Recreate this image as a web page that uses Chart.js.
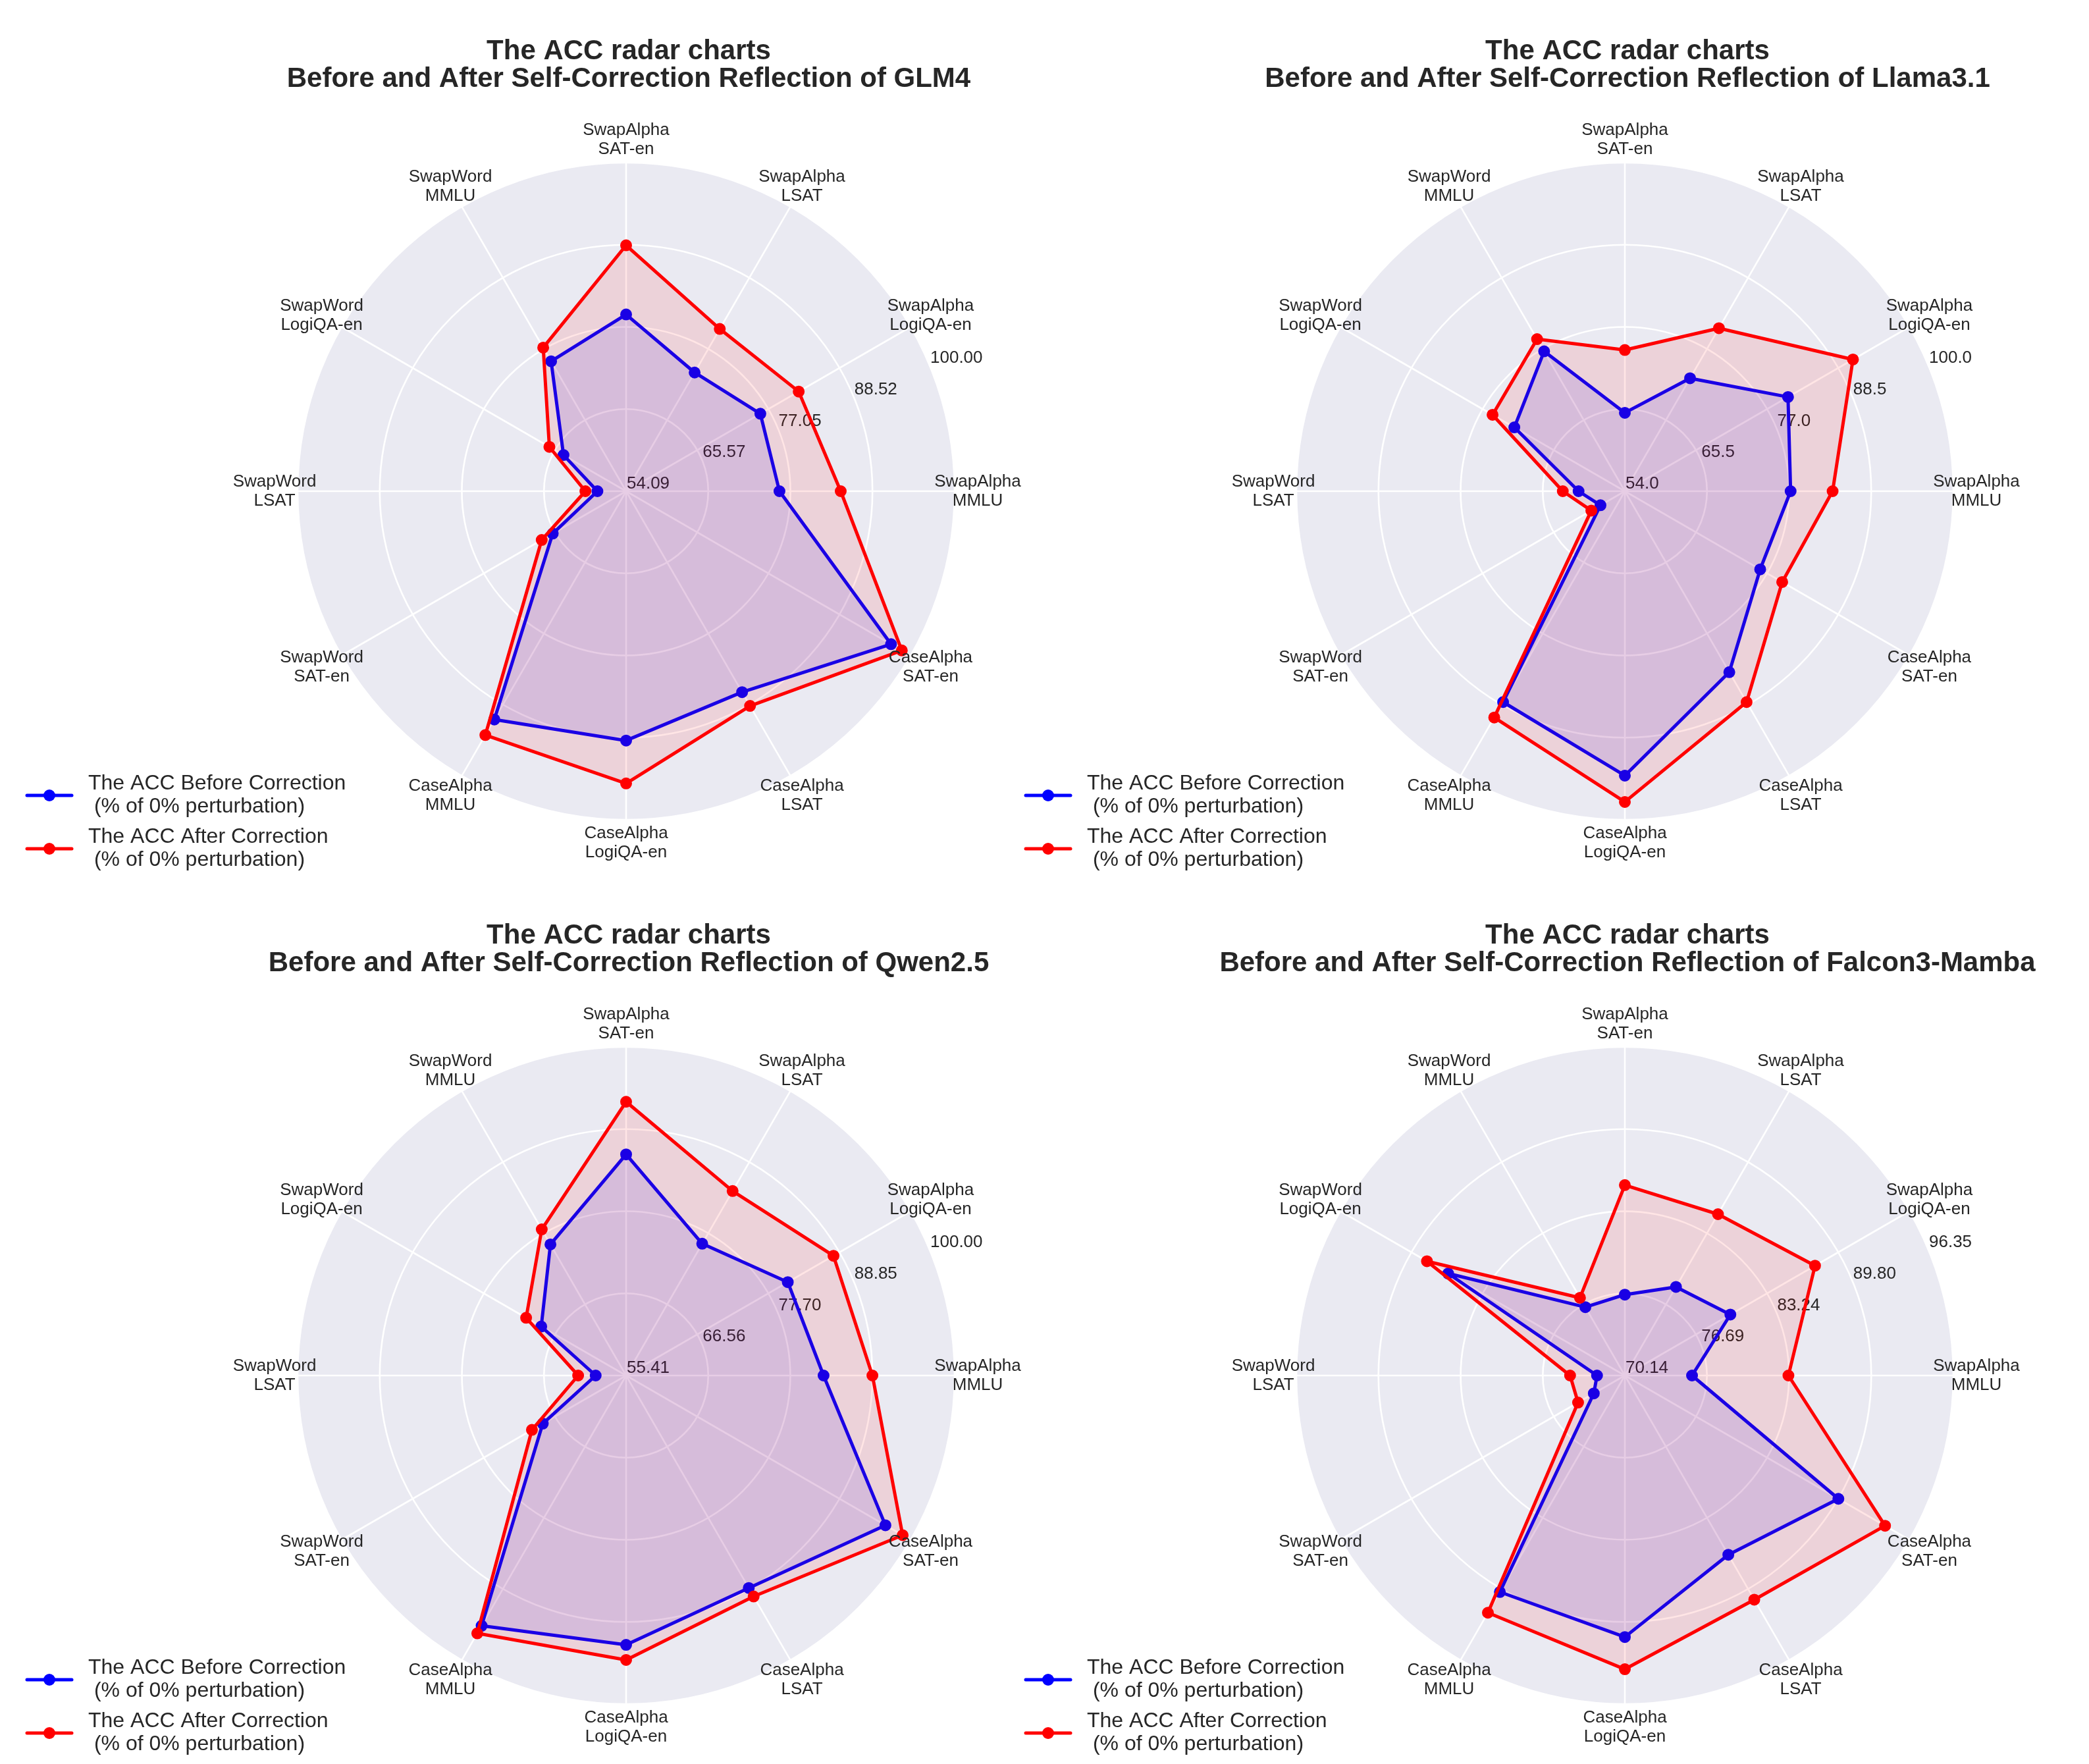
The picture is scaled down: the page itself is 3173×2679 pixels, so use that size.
<!DOCTYPE html>
<html>
<head>
<meta charset="utf-8">
<script src="https://cdn.jsdelivr.net/npm/chart.js@4.4.1/dist/chart.umd.min.js"></script>
<style>
    html, body { margin: 0; padding: 0; background: #ffffff; }
    body { width: 3173px; height: 2679px; position: relative; overflow: hidden; }
    .panel { position: absolute; width: 1586px; height: 1339px; }
</style>
</head>
<body>
<div class="panel" style="left:0px;top:0px"><canvas id="c0" width="1586" height="1339"></canvas></div>
<div class="panel" style="left:1517px;top:0px"><canvas id="c1" width="1586" height="1339"></canvas></div>
<div class="panel" style="left:0px;top:1343px"><canvas id="c2" width="1586" height="1339"></canvas></div>
<div class="panel" style="left:1517px;top:1343px"><canvas id="c3" width="1586" height="1339"></canvas></div>
<script>
// categories (clockwise from top)
const categories = [
    ['SwapAlpha', 'SAT-en'], ['SwapAlpha', 'LSAT'], ['SwapAlpha', 'LogiQA-en'], ['SwapAlpha', 'MMLU'],
    ['CaseAlpha', 'SAT-en'], ['CaseAlpha', 'LSAT'], ['CaseAlpha', 'LogiQA-en'], ['CaseAlpha', 'MMLU'],
    ['SwapWord', 'SAT-en'], ['SwapWord', 'LSAT'], ['SwapWord', 'LogiQA-en'], ['SwapWord', 'MMLU']
];

const models = ['GLM4', 'Llama3.1', 'Qwen2.5', 'Falcon3-Mamba'];

// ACC before / after self-correction
const glmBefore = [78.79, 73.24, 75.75, 75.52, 96.84, 86.51, 88.93, 90.92, 65.93, 58.10, 64.19, 75.05];
const glmAfter = [88.45, 80.27, 81.94, 84.08, 98.58, 88.73, 94.92, 93.43, 67.71, 59.78, 66.47, 77.26];

const llamaBefore = [64.98, 72.26, 80.38, 77.21, 75.88, 83.25, 93.82, 88.09, 57.94, 60.48, 71.87, 76.61];
const llamaAfter = [73.77, 80.35, 90.88, 83.09, 79.44, 88.09, 97.50, 90.58, 59.42, 62.69, 75.39, 78.58];

const qwenBefore = [85.42, 76.07, 80.75, 82.21, 96.05, 88.71, 91.96, 94.63, 68.47, 59.54, 68.71, 75.95];
const qwenAfter = [92.56, 84.32, 87.91, 88.84, 98.75, 90.03, 94.01, 95.81, 70.17, 61.92, 71.08, 78.31];

const falconBefore = [76.59, 78.30, 79.86, 75.50, 89.81, 86.65, 91.00, 90.08, 73.00, 72.36, 86.42, 76.44];
const falconAfter = [85.33, 85.00, 87.66, 83.19, 94.11, 90.79, 93.57, 91.99, 74.45, 74.51, 88.37, 77.30];

// radial tick labels of each chart
const glmTicks = ['54.09', '65.57', '77.05', '88.52', '100.00'];
const llamaTicks = ['54.0', '65.5', '77.0', '88.5', '100.0'];
const qwenTicks = ['55.41', '66.56', '77.70', '88.85', '100.00'];
const falconTicks = ['70.14', '76.69', '83.24', '89.80', '96.35'];

const beforeLabel = ['The ACC Before Correction', ' (% of 0% perturbation)'];
const afterLabel = ['The ACC After Correction', ' (% of 0% perturbation)'];

const FONT = '"Liberation Sans", Arial, Helvetica, sans-serif';
const TEXT = '#262626';

// draws the grey disc, tick labels, category labels, title and legend
const radarDecor = {
    id: 'radarDecor',
    beforeDraw(chart) {
        const s = chart.scales.r;
        const ctx = chart.ctx;
        ctx.save();
        ctx.beginPath();
        ctx.arc(s.xCenter, s.yCenter, s.drawingArea, 0, Math.PI * 2);
        ctx.fillStyle = '#eaeaf2';
        ctx.fill();
        ctx.restore();
    },
    beforeDatasetsDraw(chart, args, opts) {
        const s = chart.scales.r;
        const ctx = chart.ctx;
        const a = 22.5 * Math.PI / 180;
        ctx.save();
        ctx.font = '26px ' + FONT;
        ctx.fillStyle = TEXT;
        ctx.textAlign = 'left';
        ctx.textBaseline = 'bottom';
        opts.ticks.forEach(t => {
            const d = s.getDistanceFromCenterForValue(parseFloat(t));
            ctx.fillText(t, s.xCenter + d * Math.cos(a) + 1, s.yCenter - d * Math.sin(a) + 2);
        });
        ctx.restore();
    },
    afterDraw(chart, args, opts) {
        const s = chart.scales.r;
        const ctx = chart.ctx;
        ctx.save();
        // category labels
        ctx.font = '26px ' + FONT;
        ctx.fillStyle = TEXT;
        ctx.textAlign = 'center';
        ctx.textBaseline = 'middle';
        chart.data.labels.forEach((lab, i) => {
            const p = s.getPointPosition(i, s.drawingArea + 35);
            ctx.fillText(lab[0], p.x, p.y - 14.5);
            ctx.fillText(lab[1], p.x, p.y + 14.5);
        });
        // title
        ctx.font = 'bold 42px ' + FONT;
        ctx.textBaseline = 'alphabetic';
        ctx.fillText(opts.title[0], s.xCenter + 4, s.yCenter - 656);
        ctx.fillText(opts.title[1], s.xCenter + 4, s.yCenter - 614);
        // legend
        ctx.font = '32px ' + FONT;
        ctx.textAlign = 'left';
        const rows = [[chart.data.datasets[0], 1208], [chart.data.datasets[1], 1289]];
        rows.forEach(([ds, y]) => {
            const x0 = s.xCenter - 910;
            ctx.strokeStyle = ds.borderColor;
            ctx.lineWidth = 5;
            ctx.lineCap = 'round';
            ctx.beginPath();
            ctx.moveTo(x0, y);
            ctx.lineTo(x0 + 68, y);
            ctx.stroke();
            ctx.beginPath();
            ctx.arc(x0 + 34, y, 9, 0, Math.PI * 2);
            ctx.fillStyle = ds.borderColor;
            ctx.fill();
            ctx.fillStyle = TEXT;
            ctx.fillText(ds.label[0], x0 + 93, y - 9);
            ctx.fillText(ds.label[1], x0 + 93, y + 26);
        });
        ctx.restore();
    }
};

function makeRadar(id, model, before, after, ticks) {
    const tickVals = ticks.map(t => parseFloat(t));
    return new Chart(document.getElementById(id), {
        type: 'radar',
        data: {
            labels: categories,
            datasets: [{
                label: beforeLabel,
                data: before,
                borderColor: '#0000ff',
                backgroundColor: 'rgba(0, 0, 255, 0.1)',
                pointBackgroundColor: '#0000ff',
                pointBorderColor: '#0000ff',
                borderWidth: 5,
                borderJoinStyle: 'round',
                pointRadius: 8,
                pointBorderWidth: 2,
                fill: 'start',
                order: 1
            }, {
                label: afterLabel,
                data: after,
                borderColor: '#ff0000',
                backgroundColor: 'rgba(255, 0, 0, 0.1)',
                pointBackgroundColor: '#ff0000',
                pointBorderColor: '#ff0000',
                borderWidth: 5,
                borderJoinStyle: 'round',
                pointRadius: 8,
                pointBorderWidth: 2,
                fill: 'start',
                order: 0
            }]
        },
        options: {
            responsive: false,
            animation: false,
            devicePixelRatio: 1,
            layout: { padding: { left: 452, right: 136, top: 247, bottom: 94 } },
            plugins: {
                legend: { display: false },
                title: { display: false },
                tooltip: { enabled: false },
                radarDecor: {
                    ticks: ticks,
                    title: ['The ACC radar charts', 'Before and After Self-Correction Reflection of ' + model]
                }
            },
            scales: {
                r: {
                    min: tickVals[0],
                    max: tickVals[tickVals.length - 1],
                    startAngle: 0,
                    afterBuildTicks: scale => {
                        scale.ticks = tickVals.map(v => ({ value: v }));
                    },
                    ticks: { display: false },
                    pointLabels: { display: false },
                    grid: { color: '#ffffff', lineWidth: 2.6, circular: true },
                    angleLines: { color: '#ffffff', lineWidth: 2.6 }
                }
            }
        },
        plugins: [radarDecor]
    });
}

makeRadar('c0', models[0], glmBefore, glmAfter, glmTicks);
makeRadar('c1', models[1], llamaBefore, llamaAfter, llamaTicks);
makeRadar('c2', models[2], qwenBefore, qwenAfter, qwenTicks);
makeRadar('c3', models[3], falconBefore, falconAfter, falconTicks);
</script>
</body>
</html>
